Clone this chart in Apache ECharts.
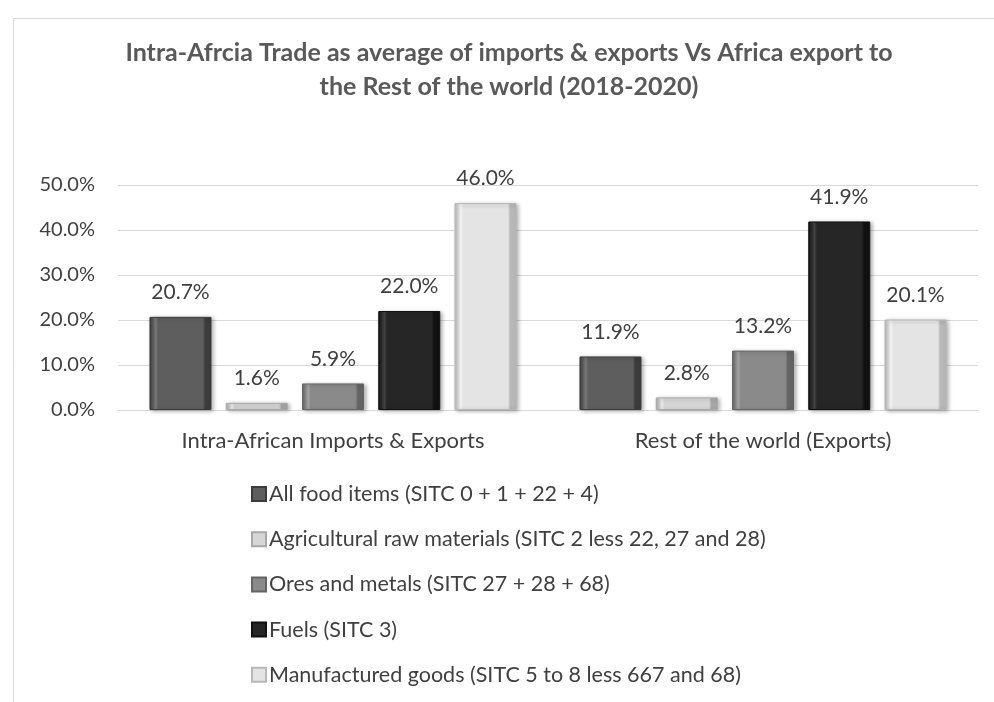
<!DOCTYPE html>
<html>
<head>
<meta charset="utf-8">
<style>
  html, body { margin: 0; padding: 0; background: #fff; }
  #chart { width: 994px; height: 702px; }
</style>
<script src="https://cdn.jsdelivr.net/npm/echarts@6/dist/echarts.min.js"></script>
</head>
<body>
<div id="chart"></div>
<script>
let categories = ['Intra-African Imports & Exports', 'Rest of the world (Exports)']
let seriesNames = [
  'All food items (SITC 0 + 1 + 22 + 4)',
  'Agricultural raw materials (SITC 2 less 22, 27 and 28)',
  'Ores and metals (SITC 27 + 28 + 68)',
  'Fuels (SITC 3)',
  'Manufactured goods (SITC 5 to 8 less 667 and 68)'
]
let foodItems = [20.7, 11.9]
let agriRaw = [1.6, 2.8]
let oresMetals = [5.9, 13.2]
let fuels = [22.0, 41.9]
let manufactured = [46.0, 20.1]
let yTicks = [0, 10, 20, 30, 40, 50]

let values = [foodItems, agriRaw, oresMetals, fuels, manufactured]
// face colour, light edge, dark edge
let shades = [
  ['#5e5e5e', '#7a7a7a', '#3c3c3c'],
  ['#d6d6d6', '#eeeeee', '#a8a8a8'],
  ['#8a8a8a', '#a6a6a6', '#646464'],
  ['#262626', '#444444', '#111111'],
  ['#e4e4e4', '#f6f6f6', '#b8b8b8']
]
let font = 'Lato, "Open Sans", sans-serif'

function bevel(s) {
  return new echarts.graphic.LinearGradient(0, 0, 1, 0, [
    {offset: 0, color: s[2]},
    {offset: 0.1, color: s[1]},
    {offset: 0.14, color: s[0]},
    {offset: 0.86, color: s[0]},
    {offset: 0.9, color: s[2]},
    {offset: 1, color: s[2]}
  ])
}

let chart = echarts.init(document.getElementById('chart'))
let series = values.map(function (v, i) {
  return {
    name: seriesNames[i],
    type: 'bar',
    barWidth: 62,
    barGap: '23%',
    data: v,
    itemStyle: {
      color: bevel(shades[i]),
      borderColor: shades[i][2],
      borderWidth: 1,
      shadowBlur: 4,
      shadowOffsetX: 2,
      shadowOffsetY: 1,
      shadowColor: 'rgba(0,0,0,0.3)'
    },
    label: {
      show: true,
      position: 'top',
      distance: 14,
      fontFamily: font,
      fontSize: 21,
      color: '#404040',
      formatter: function (p) { return p.value.toFixed(1) + '%' }
    }
  }
})

let option = {
  animation: false,
  color: shades.map(function (s) { return s[0] }),
  graphic: [{
    type: 'rect',
    left: 11,
    top: 16,
    shape: {width: 1000, height: 700},
    style: {fill: 'none', stroke: '#d9d9d9', lineWidth: 1}
  }],
  title: {
    text: 'Intra-Afrcia Trade as average of imports & exports Vs Africa export to\nthe Rest of the world (2018-2020)',
    left: 509,
    top: 36,
    padding: 0,
    textAlign: 'center',
    textStyle: {
      fontFamily: font,
      fontSize: 25,
      fontWeight: 'bold',
      color: '#595959',
      lineHeight: 34
    }
  },
  legend: {
    orient: 'vertical',
    left: 246,
    top: 478,
    itemWidth: 14,
    itemHeight: 14,
    itemGap: 23.2,
    icon: 'rect',
    textStyle: {
      fontFamily: font,
      fontSize: 21.5,
      color: '#404040',
      padding: [0, 0, 0, -2]
    }
  },
  grid: {
    left: 118,
    right: 16,
    top: 185,
    bottom: 292
  },
  xAxis: {
    type: 'category',
    data: categories,
    axisTick: {show: false},
    axisLine: {lineStyle: {color: '#d9d9d9'}},
    axisLabel: {
      fontFamily: font,
      fontSize: 22,
      color: '#404040',
      margin: 20
    }
  },
  yAxis: {
    type: 'value',
    min: yTicks[0],
    max: yTicks[yTicks.length - 1],
    interval: yTicks[1] - yTicks[0],
    axisLine: {show: false},
    axisTick: {show: false},
    splitLine: {lineStyle: {color: '#d9d9d9'}},
    axisLabel: {
      fontFamily: font,
      fontSize: 20,
      color: '#404040',
      margin: 23,
      formatter: function (v) { return v.toFixed(1) + '%' }
    }
  },
  series: series
}
chart.setOption(option)
</script>
</body>
</html>
